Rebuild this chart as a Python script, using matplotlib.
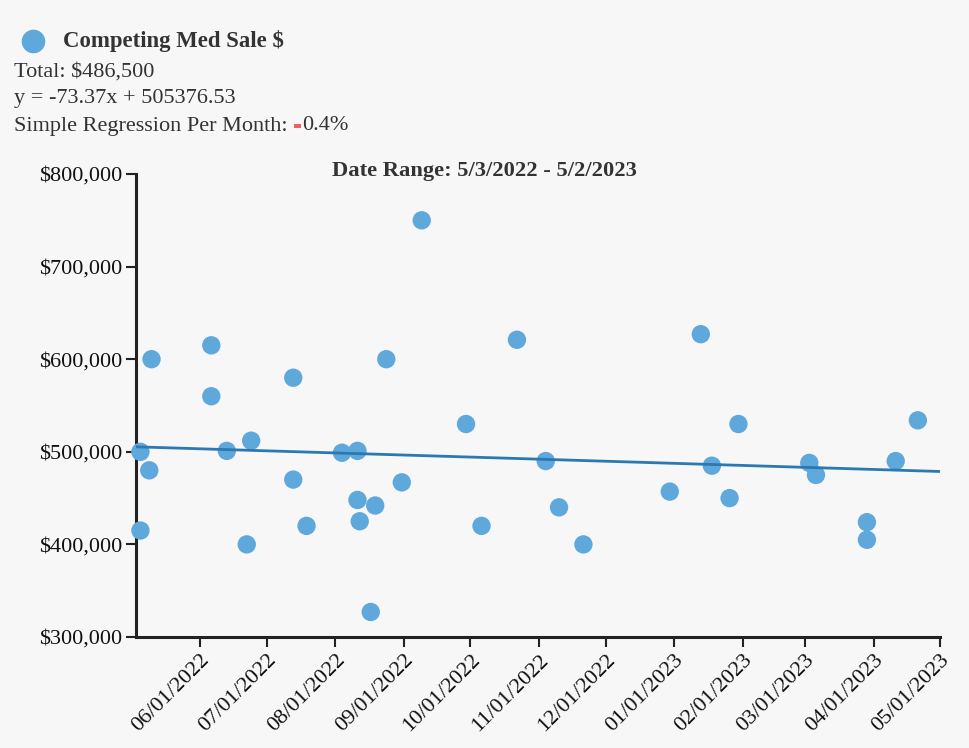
"""Competing median sale price scatter with simple regression line."""

import datetime as dt

import matplotlib

matplotlib.use("Agg")
import matplotlib.dates as mdates
import matplotlib.pyplot as plt
import numpy as np
from matplotlib.patches import Rectangle
from matplotlib.ticker import FuncFormatter

SERIES_NAME = "Competing Med Sale $"
TOTAL_TEXT = "Total: $486,500"
SLOPE = -73.37
INTERCEPT = 505376.53
MONTHLY_CHANGE = "0.4%"
RANGE_START = dt.date(2022, 5, 3)
RANGE_END = dt.date(2023, 5, 2)

sale_dates = [
    "2022-05-05", "2022-05-09", "2022-05-05", "2022-05-10", "2022-06-06", "2022-06-06",
    "2022-06-13", "2022-06-24", "2022-06-22", "2022-07-13", "2022-07-13", "2022-07-19",
    "2022-08-04", "2022-08-11", "2022-08-11", "2022-08-12", "2022-08-19", "2022-08-17",
    "2022-08-24", "2022-08-31", "2022-09-09", "2022-09-29", "2022-10-06", "2022-10-22",
    "2022-11-04", "2022-11-10", "2022-11-21", "2022-12-30", "2023-01-13", "2023-01-18",
    "2023-01-26", "2023-01-30", "2023-03-03", "2023-03-06", "2023-03-29", "2023-03-29",
    "2023-04-11", "2023-04-21",
]
sale_prices = [
    500000, 480000, 415000, 600000, 615000, 560000,
    501000, 512000, 400000, 470000, 580000, 420000,
    499000, 501000, 448000, 425000, 442000, 327000,
    600000, 467000, 750000, 530000, 420000, 621000,
    490000, 440000, 400000, 457000, 627000, 485000,
    450000, 530000, 488000, 475000, 424000, 405000,
    490000, 534000,
]

BACKGROUND = "#f7f7f7"
POINT_COLOR = "#5fa8dc"
LINE_COLOR = "#2b78b2"
TEXT_COLOR = "#333333"
WIDTH, HEIGHT = 969, 748

plt.rcParams["font.family"] = ["Liberation Serif", "DejaVu Serif"]

figure = plt.figure(figsize=(WIDTH / 100, HEIGHT / 100), dpi=100, facecolor=BACKGROUND)
axis = figure.add_axes([136 / WIDTH, 1 - 637 / HEIGHT, (940 - 136) / WIDTH, (637 - 174) / HEIGHT])
axis.set_facecolor(BACKGROUND)

dates = [dt.datetime.strptime(value, "%Y-%m-%d") for value in sale_dates]
axis.scatter(dates, sale_prices, s=175, color=POINT_COLOR, edgecolors="none", zorder=5, clip_on=False)

line_days = np.array([0, (RANGE_END - RANGE_START).days])
line_dates = [RANGE_START + dt.timedelta(days=int(day)) for day in line_days]
axis.plot(line_dates, SLOPE * line_days + INTERCEPT, color=LINE_COLOR, linewidth=2.0, zorder=6)

axis.set_xlim(RANGE_START, dt.date(2023, 5, 1))
axis.set_ylim(300000, 800000)
axis.set_yticks([300000, 400000, 500000, 600000, 700000, 800000])
axis.yaxis.set_major_formatter(FuncFormatter(lambda value, _: f"${value:,.0f}"))
axis.xaxis.set_major_locator(mdates.MonthLocator())
axis.xaxis.set_major_formatter(mdates.DateFormatter("%m/%d/%Y"))

for side in ("top", "right"):
    axis.spines[side].set_visible(False)
for side in ("left", "bottom"):
    axis.spines[side].set_linewidth(2.2)
    axis.spines[side].set_color("#222222")
axis.tick_params(length=7, width=1.5, color="#222222", labelsize=16, labelcolor="#111111", pad=3)
for label in axis.get_xticklabels():
    label.set_rotation(45)
    label.set_ha("right")
    label.set_rotation_mode("anchor")

figure.text(0.5, 1 - 171 / HEIGHT, "Date Range: 5/3/2022 - 5/2/2023", ha="center", va="center",
            fontsize=16.2, fontweight="bold", color=TEXT_COLOR)

# header block: legend marker, name and regression summary
figure.add_artist(plt.Line2D([33 / WIDTH], [1 - 41 / HEIGHT], marker="o", markersize=16,
                             color=POINT_COLOR, linestyle="none"))
figure.text(63 / WIDTH, 1 - 41 / HEIGHT, SERIES_NAME, ha="left", va="center",
            fontsize=16.4, fontweight="bold", color=TEXT_COLOR)
figure.text(14 / WIDTH, 1 - 72 / HEIGHT, TOTAL_TEXT, ha="left", va="center", fontsize=16, color=TEXT_COLOR)
figure.text(14 / WIDTH, 1 - 98 / HEIGHT, f"y = {SLOPE}x + {INTERCEPT}", ha="left", va="center",
            fontsize=16, color=TEXT_COLOR)
prefix = figure.text(14 / WIDTH, 1 - 126 / HEIGHT, "Simple Regression Per Month: ", ha="left", va="center",
                     fontsize=16, color=TEXT_COLOR)
renderer = figure.canvas.get_renderer()
x_pixel = prefix.get_window_extent(renderer).x1
# the red bar stands for the negative sign
figure.add_artist(Rectangle(((x_pixel + 1) / WIDTH, (HEIGHT - 128) / HEIGHT), 7 / WIDTH, 4 / HEIGHT,
                            transform=figure.transFigure, facecolor="#ef5f5f", edgecolor="none"))
figure.text((x_pixel + 9) / WIDTH, 1 - 126 / HEIGHT, MONTHLY_CHANGE, ha="left", va="center",
            fontsize=16, color=TEXT_COLOR)

figure.savefig("out.png", dpi=100, facecolor=BACKGROUND)
